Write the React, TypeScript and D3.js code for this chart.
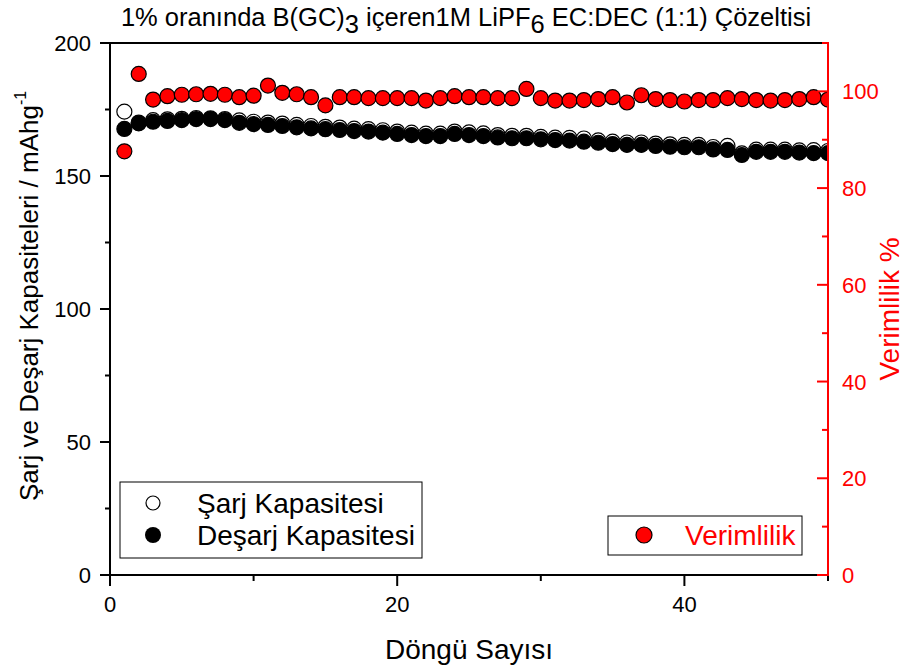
import React from "react";
import * as d3 from "d3";

const cycles = d3.range(1, 51);
const discharge = [
  167.7, 169.8, 170.4, 170.7, 171.0, 171.4, 171.4, 171.0, 170.0, 169.5,
  169.2, 168.8, 168.3, 167.9, 167.6, 167.3, 166.9, 166.7, 166.3, 165.8,
  165.4, 165.0, 165.0, 165.8, 165.4, 165.0, 164.5, 164.2, 164.2, 163.8,
  163.5, 163.3, 162.9, 162.5, 162.0, 161.7, 161.7, 161.3, 161.0, 160.8,
  160.8, 160.0, 159.8, 157.9, 159.1, 159.1, 159.1, 158.8, 158.6, 158.6,
];
const charge = [
  174.2, 170.1, 171.0, 171.3, 171.5, 171.8, 171.7, 171.4, 170.9, 170.4,
  170.1, 169.7, 169.2, 168.8, 168.5, 168.2, 167.8, 167.6, 167.2, 166.7,
  166.3, 165.9, 165.9, 166.7, 166.4, 166.0, 165.4, 165.1, 165.1, 164.7,
  164.4, 164.3, 164.1, 163.4, 162.9, 162.6, 162.6, 162.2, 161.9, 161.7,
  161.7, 160.9, 161.3, 158.5, 159.9, 159.9, 159.9, 159.6, 159.7, 159.4,
];
const efficiency = [
  87.6, 103.6, 98.3, 99.0, 99.3, 99.4, 99.5, 99.3, 98.8, 99.1,
  101.2, 99.7, 99.4, 98.8, 97.1, 98.8, 98.8, 98.6, 98.6, 98.6,
  98.6, 98.1, 98.6, 99.0, 98.8, 98.8, 98.6, 98.6, 100.5, 98.6,
  98.1, 98.1, 98.2, 98.4, 98.8, 97.7, 99.2, 98.4, 98.2, 97.9,
  98.2, 98.2, 98.6, 98.4, 98.2, 98.1, 98.2, 98.4, 98.8, 98.3,
];
const xMajor = [0, 20, 40];
const xMinor = [10, 30, 50];
const yLeftMajor = [0, 50, 100, 150, 200];
const yLeftMinor = [25, 75, 125, 175];
const yRightMajor = [0, 20, 40, 60, 80, 100];
const yRightMinor = [10, 30, 50, 70, 90, 110];

const W = 907;
const H = 670;
const L = 110, R = 828, T = 43, B = 575;
const FONT = "'Liberation Sans', Arial, sans-serif";
const RED = "#ff0000";

export default function App() {
  const x = d3.scaleLinear().domain([0, 50]).range([L, R]);
  const yL = d3.scaleLinear().domain([0, 200]).range([B, T]);
  const yR = d3.scaleLinear().domain([0, 110]).range([B, T]);
  const r = 7.5;

  return (
    <svg width={W} height={H} style={{ position: "absolute", left: 0, top: 0, background: "#fff" }} fontFamily={FONT}>
      <defs>
        <clipPath id="plot">
          <rect x={L} y={T} width={R - L} height={B - T} />
        </clipPath>
      </defs>
      {/* title */}
      <text x={466} y={26} fontSize={25.5} textAnchor="middle" fill="#000">
        1% oranında B(GC)<tspan dy={7}>3</tspan>
        <tspan dy={-7}> içeren1M LiPF</tspan>
        <tspan dy={7}>6</tspan>
        <tspan dy={-7}> EC:DEC (1:1) Çözeltisi</tspan>
      </text>

      {/* data */}
      <g clipPath="url(#plot)">
        {cycles.map((c, i) => (
          <circle key={"c" + c} cx={x(c)} cy={yL(charge[i])} r={r} fill="#fff" stroke="#000" strokeWidth={1.2} />
        ))}
        {cycles.map((c, i) => (
          <circle key={"d" + c} cx={x(c)} cy={yL(discharge[i])} r={r} fill="#000" stroke="#000" strokeWidth={1.2} />
        ))}
        {cycles.map((c, i) => (
          <circle key={"e" + c} cx={x(c)} cy={yR(efficiency[i])} r={r} fill={RED} stroke="#000" strokeWidth={1.2} />
        ))}
      </g>

      {/* top axis */}
      <line x1={L} x2={R} y1={T} y2={T} stroke="#000" strokeWidth={2} />
      {/* bottom axis */}
      <line x1={L - 1} x2={R + 1} y1={B} y2={B} stroke="#000" strokeWidth={2} />
      {xMajor.map((v) => (
        <g key={"xm" + v}>
          <line x1={x(v)} x2={x(v)} y1={B} y2={B + 11} stroke="#000" strokeWidth={2} />
          <text x={x(v)} y={612} fontSize={22} textAnchor="middle">{v}</text>
        </g>
      ))}
      {xMinor.map((v) => (
        <line key={"xn" + v} x1={x(v)} x2={x(v)} y1={B} y2={B + 6} stroke="#000" strokeWidth={2} />
      ))}
      {/* left axis */}
      <line x1={L} x2={L} y1={T - 1} y2={B + 1} stroke="#000" strokeWidth={2} />
      {yLeftMajor.map((v) => (
        <g key={"ylm" + v}>
          <line x1={L - 10} x2={L} y1={yL(v)} y2={yL(v)} stroke="#000" strokeWidth={2} />
          <text x={91} y={yL(v) + 8} fontSize={22} textAnchor="end">{v}</text>
        </g>
      ))}
      {yLeftMinor.map((v) => (
        <line key={"yln" + v} x1={L - 5} x2={L} y1={yL(v)} y2={yL(v)} stroke="#000" strokeWidth={2} />
      ))}
      {/* right axis */}
      <line x1={R} x2={R} y1={T - 1} y2={B + 1} stroke={RED} strokeWidth={2} />
      {yRightMajor.map((v) => (
        <g key={"yrm" + v}>
          <line x1={R - 11} x2={R} y1={yR(v)} y2={yR(v)} stroke={RED} strokeWidth={2} />
          <text x={842} y={yR(v) + 8} fontSize={22} fill={RED}>{v}</text>
        </g>
      ))}
      {yRightMinor.map((v) => (
        <line key={"yrn" + v} x1={R - 6} x2={R} y1={yR(v)} y2={yR(v)} stroke={RED} strokeWidth={2} />
      ))}

      {/* axis titles */}
      <text x={469} y={659} fontSize={28} textAnchor="middle">Döngü Sayısı</text>
      <text transform="translate(38,501) rotate(-90)" fontSize={26}>
        Şarj ve Deşarj Kapasiteleri / mAhg<tspan fontSize={16} dy={-12}>-1</tspan>
      </text>
      <text transform="translate(899,309) rotate(-90)" fontSize={28} textAnchor="middle" fill={RED}>Verimlilik %</text>

      {/* legend 1 */}
      <rect x={120} y={482} width={302} height={76} fill="#fff" stroke="#000" strokeWidth={1} />
      <circle cx={153} cy={503} r={7} fill="#fff" stroke="#000" strokeWidth={1.2} />
      <text x={197} y={513} fontSize={28}>Şarj Kapasitesi</text>
      <circle cx={153} cy={535} r={8} fill="#000" />
      <text x={197} y={545} fontSize={28}>Deşarj Kapasitesi</text>

      {/* legend 2 */}
      <rect x={608} y={516} width={194} height={39} fill="#fff" stroke="#000" strokeWidth={1} />
      <circle cx={644} cy={535} r={8} fill={RED} stroke="#000" strokeWidth={1.2} />
      <text x={685} y={545} fontSize={28} fill={RED}>Verimlilik</text>
    </svg>
  );
}
